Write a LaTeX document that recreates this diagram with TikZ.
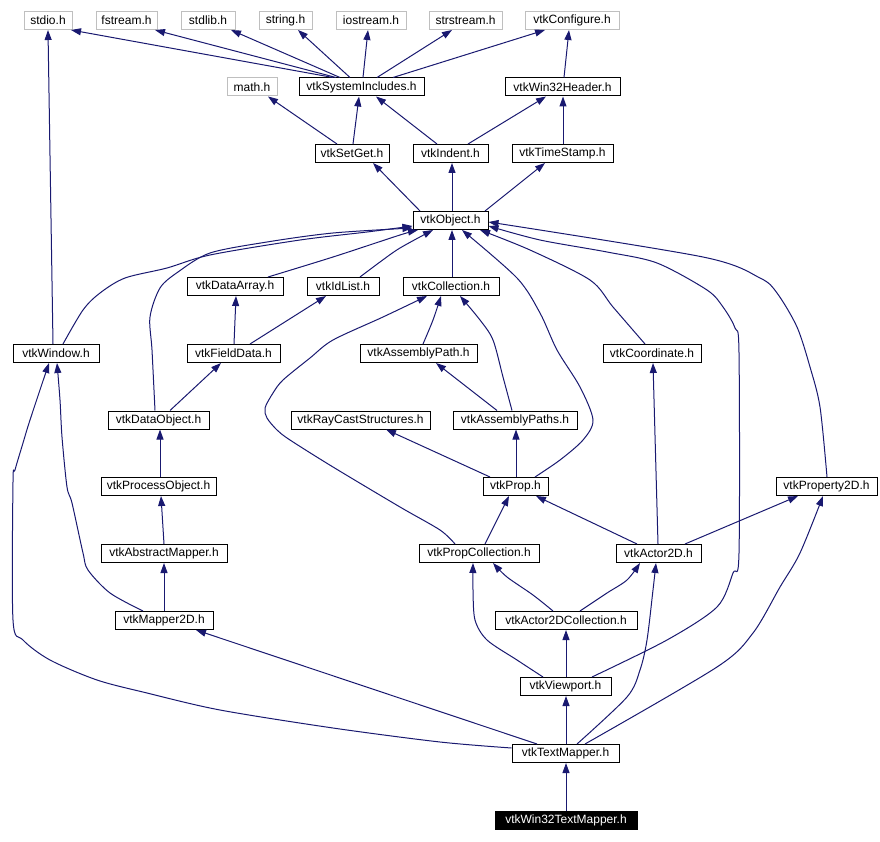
\documentclass[tikz,border=0pt]{standalone}
\usepackage{fontspec}
\setmainfont{Liberation Sans}
\usetikzlibrary{arrows.meta}
\definecolor{edgec}{RGB}{25,25,112}
\definecolor{grayc}{RGB}{191,191,191}
\begin{document}
\begin{tikzpicture}[x=1pt,y=-1pt,
  box/.style={draw=black, line width=1pt, inner sep=0pt, minimum height=18pt, font=\fontsize{12}{14}\selectfont, fill=white},
  sysbox/.style={box, draw=grayc},
  curbox/.style={box, fill=black, text=white},
  edge/.style={draw=edgec, line width=1pt, -{Triangle[length=10pt,width=7pt]}},
  sm/.style={smooth, tension=0.5}]
\useasboundingbox (0,0) rectangle (880,842);
% row 1
\node[sysbox, minimum width=48pt] (stdio) at (48,20.5) {stdio.h};
\node[sysbox, minimum width=61pt] (fstream) at (126.5,20.5) {fstream.h};
\node[sysbox, minimum width=54pt] (stdlib) at (208,20.5) {stdlib.h};
\node[sysbox, minimum width=53pt] (string) at (285.5,20.5) {string.h};
\node[sysbox, minimum width=70pt] (iostream) at (371,20.5) {iostream.h};
\node[sysbox, minimum width=73pt] (strstream) at (465.5,20.5) {strstream.h};
\node[sysbox, minimum width=94pt] (vtkconf) at (572,20.5) {vtkConfigure.h};
% row 2
\node[sysbox, minimum width=50pt] (math) at (252,87) {math.h};
\node[box, minimum width=125pt] (sysinc) at (361.5,87) {vtkSystemIncludes.h};
\node[box, minimum width=115pt] (win32) at (562.5,87) {vtkWin32Header.h};
% row 3
\node[box, minimum width=74pt] (setget) at (352,153.5) {vtkSetGet.h};
\node[box, minimum width=75pt] (indent) at (450.5,153.5) {vtkIndent.h};
\node[box, minimum width=101pt] (timestamp) at (562.5,153.5) {vtkTimeStamp.h};
% row 4
\node[box, minimum width=75pt] (object) at (450.5,220.5) {vtkObject.h};
% row 5
\node[box, minimum width=96pt] (dataarray) at (235,286.5) {vtkDataArray.h};
\node[box, minimum width=72pt] (idlist) at (343,286.5) {vtkIdList.h};
\node[box, minimum width=96pt] (collection) at (451,286.5) {vtkCollection.h};
% row 6
\node[box, minimum width=86pt] (window) at (56,353.5) {vtkWindow.h};
\node[box, minimum width=93pt] (fielddata) at (233.5,353.5) {vtkFieldData.h};
\node[box, minimum width=117pt] (asmpath) at (418.5,353.5) {vtkAssemblyPath.h};
\node[box, minimum width=98pt] (coordinate) at (652,353.5) {vtkCoordinate.h};
% row 7
\node[box, minimum width=101pt] (dataobject) at (158.5,420) {vtkDataObject.h};
\node[box, minimum width=139pt] (raycast) at (360.5,420) {vtkRayCastStructures.h};
\node[box, minimum width=124pt] (asmpaths) at (515,420) {vtkAssemblyPaths.h};
% row 8
\node[box, minimum width=115pt] (procobj) at (158.5,486.5) {vtkProcessObject.h};
\node[box, minimum width=65pt] (prop) at (515.5,486.5) {vtkProp.h};
\node[box, minimum width=101pt] (property2d) at (826.5,486.5) {vtkProperty2D.h};
% row 9
\node[box, minimum width=126pt] (absmapper) at (164,553.5) {vtkAbstractMapper.h};
\node[box, minimum width=120pt] (propcoll) at (479,553.5) {vtkPropCollection.h};
\node[box, minimum width=85pt] (actor2d) at (658.5,553.5) {vtkActor2D.h};
% row 10
\node[box, minimum width=98pt] (mapper2d) at (164,620.5) {vtkMapper2D.h};
\node[box, minimum width=142pt] (actorcoll) at (566,620.5) {vtkActor2DCollection.h};
% row 11
\node[box, minimum width=91pt] (viewport) at (565.5,686.5) {vtkViewport.h};
% row 12
\node[box, minimum width=107pt] (textmapper) at (565.5,753.5) {vtkTextMapper.h};
% row 13
\node[curbox, minimum width=142pt] (w32tm) at (566,820.5) {vtkWin32TextMapper.h};

% ---- edges: top
\draw[edge] (sysinc.north -| 333,0) -- (stdio.south -| 71,0);
\draw[edge] (sysinc.north -| 336,0) -- (fstream.south -| 155,0);
\draw[edge] (sysinc.north -| 340,0) -- (stdlib.south -| 231,0);
\draw[edge] (sysinc.north -| 350,0) -- (string.south -| 298,0);
\draw[edge] (sysinc.north -| 363,0) -- (iostream.south -| 368,0);
\draw[edge] (sysinc.north -| 377,0) -- (strstream.south -| 452,0);
\draw[edge] (sysinc.north -| 393,0) -- (vtkconf.south -| 545,0);
\draw[edge] (win32.north -| 564,0) -- (vtkconf.south -| 569,0);
\draw[edge] (setget.north -| 337,0) -- (math.south -| 268,0);
\draw[edge] (setget.north -| 353,0) -- (sysinc.south -| 359,0);
\draw[edge] (indent.north -| 437,0) -- (sysinc.south -| 376,0);
\draw[edge] (indent.north -| 468,0) -- (win32.south -| 546,0);
\draw[edge] (timestamp.north -| 563,0) -- (win32.south -| 563,0);
\draw[edge] (object.north -| 420,0) -- (setget.south -| 373,0);
\draw[edge] (object.north -| 452,0) -- (indent.south -| 452,0);
\draw[edge] (object.north -| 485,0) -- (timestamp.south -| 545,0);

% ---- edges: middle
\draw[edge] (window.north -| 53,0) -- (stdio.south -| 48,0);
\draw[edge] plot[sm] coordinates {(window.north -| 63,0) (83,310) (100,293) (125,278) (167,268) (210,255) (300,240) (367,232) (object.west |- 0,226)};
\draw[edge] plot[sm] coordinates {(dataobject.north -| 155,0) (152,350) (150,317) (160,288) (178,272) (210,253) (267,242) (333,233) (object.west |- 0,228)};
\draw[edge] plot[sm] coordinates {(dataarray.north -| 268,0) (333,257) (400,235) (object.south -| 418,0)};
\draw[edge] plot[sm] coordinates {(idlist.north -| 360,0) (380,262) (400,248) (object.south -| 433,0)};
\draw[edge] (collection.north -| 452,0) -- (object.south -| 452,0);
\draw[edge] plot[sm] coordinates {(prop.north -| 535,0) (560,460) (583,440) (593,420) (580,387) (557,350) (540,313) (517,278) (object.south -| 462,0)};
\draw[edge] plot[sm] coordinates {(coordinate.north -| 645,0) (613,307) (590,280) (530,250) (object.south -| 480,0)};
\draw[edge] plot[sm] coordinates {(viewport.north -| 592,0) (667,640) (717,607) (733,573) (739,553) (739,353) (735,328) (723,307) (707,290) (657,263) (607,252) (540,240) (object.east |- 0,226)};
\draw[edge] plot[sm] coordinates {(property2d.north -| 827,0) (820,407) (810,367) (797,327) (777,293) (760,278) (703,257) (object.east |- 0,222)};

\draw[edge] (fielddata.north -| 234,0) -- (dataarray.south -| 236,0);
\draw[edge] (fielddata.north -| 250,0) -- (idlist.south -| 326,0);
\draw[edge] (dataobject.north -| 170,0) -- (fielddata.south -| 221,0);
\draw[edge] plot[sm] coordinates {(asmpath.north -| 423,0) (433,320) (collection.south -| 441,0)};
\draw[edge] plot[sm] coordinates {(asmpaths.north -| 512,0) (503,377) (493,340) (480,320) (collection.south -| 460,0)};
\draw[edge] (asmpaths.north -| 497,0) -- (asmpath.south -| 436,0);
\draw[edge] plot[sm] coordinates {(propcoll.north -| 455,0) (440,530) (400,507) (333,467) (290,440) (277,430) (267,418) (265,408) (273,393) (283,380) (310,358) (333,340) (383,317) (collection.south -| 427,0)};
\draw[edge] (prop.north -| 490,0) -- (raycast.south -| 386,0);
\draw[edge] (prop.north -| 516,0) -- (asmpaths.south -| 516,0);
\draw[edge] (procobj.north -| 160,0) -- (dataobject.south -| 160,0);
\draw[edge] (absmapper.north -| 164,0) -- (procobj.south -| 161,0);
\draw[edge] (mapper2d.north -| 164,0) -- (absmapper.south -| 164,0);
\draw[edge] plot[sm] coordinates {(mapper2d.north -| 143,0) (110,593) (88,570) (83,553) (72,503) (67,487) (62,437) (60,400) (window.south -| 57,0)};
\draw[edge] (propcoll.north -| 485,0) -- (prop.south -| 509,0);
\draw[edge] (actor2d.north -| 637,0) -- (prop.south -| 536,0);
\draw[edge] (actor2d.north -| 685,0) -- (property2d.south -| 798,0);
\draw[edge] (actor2d.north -| 658,0) -- (coordinate.south -| 653,0);
\draw[edge] plot[sm] coordinates {(actorcoll.north -| 553,0) (533,595) (507,577) (propcoll.south -| 493,0)};
\draw[edge] plot[sm] coordinates {(actorcoll.north -| 580,0) (607,593) (627,580) (actor2d.south -| 640,0)};
\draw[edge] (viewport.north -| 566,0) -- (actorcoll.south -| 566,0);
\draw[edge] plot[sm] coordinates {(viewport.north -| 543,0) (517,660) (487,640) (475,620) (473,590) (propcoll.south -| 473,0)};
\draw[edge] (textmapper.north -| 566,0) -- (viewport.south -| 566,0);
\draw[edge] (textmapper.north -| 537,0) -- (mapper2d.south -| 196,0);
\draw[edge] plot[sm] coordinates {(textmapper.west |- 0,748) (440,742) (333,728) (220,710) (147,693) (97,680) (50,660) (23,640) (13,620) (13,482) (15,470) (23,443) (30,420) (window.south -| 49,0)};
\draw[edge] plot[sm] coordinates {(textmapper.north -| 577,0) (627,697) (640,670) (647,640) (653,590) (actor2d.south -| 656,0)};
\draw[edge] plot[sm] coordinates {(textmapper.north -| 585,0) (717,667) (753,633) (780,587) (800,553) (property2d.south -| 823,0)};
\draw[edge] (w32tm.north -| 566,0) -- (textmapper.south -| 566,0);
\end{tikzpicture}
\end{document}
